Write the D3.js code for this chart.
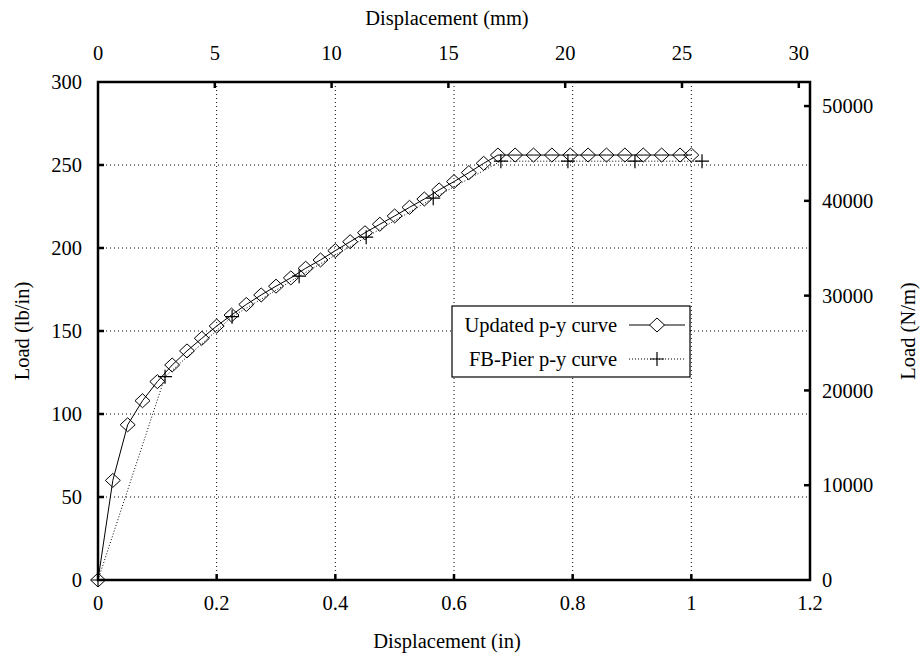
<!DOCTYPE html>
<html><head><meta charset="utf-8">
<script src="https://cdn.jsdelivr.net/npm/d3@7"></script>
<style>body{margin:0;background:#fff}svg{display:block}</style>
</head><body><svg id="c" width="922" height="656" font-family="Liberation Serif, DejaVu Serif, serif"></svg>
<script>
const updatedX=[0,0.025,0.05,0.075,0.1,0.125,0.15,0.175,0.2,0.225,0.25,0.275,0.3,0.325,0.35,0.375,0.4,0.425,0.45,0.475,0.5,0.525,0.55,0.575,0.6,0.625,0.65,0.674,0.703,0.734,0.765,0.796,0.826,0.857,0.888,0.919,0.950,0.981,1.0];
const updatedY=[0,60,93.5,108,119.5,129.5,138,145.6,153,159.6,166,171.7,177,182,187.8,192.8,198.4,203.8,209.2,214.3,219.3,224.5,229.5,235,240,245.4,251,256,256,256,256,256,256,256,256,256,256,256,256];
const fbX=[0,0.113,0.226,0.339,0.452,0.565,0.679,0.792,0.905,1.018];
const fbY=[0,122.5,158.6,183,206.5,230,252.3,252.3,252.3,252.3];
const xTicksIn=[0,0.2,0.4,0.6,0.8,1,1.2];
const xTicksMm=[0,5,10,15,20,25,30];
const yTicksLb=[0,50,100,150,200,250,300];
const yTicksN=[0,10000,20000,30000,40000,50000];
const legendLabels=["Updated p-y curve","FB-Pier p-y curve"];

const svg=d3.select("#c");
const L=98,R=810,T=82,B=580;
const x=d3.scaleLinear().domain([0,1.2]).range([L,R]);
const xmm=d3.scaleLinear().domain([0,1.2*25.4]).range([L,R]);
const y=d3.scaleLinear().domain([0,300]).range([B,T]);
const yN=d3.scaleLinear().domain([0,300*175.1268]).range([B,T]);

// grid
const g=svg.append("g").attr("stroke","#000").attr("stroke-width",1).attr("stroke-dasharray","1,3");
xTicksIn.filter(v=>v>0&&v<1.2).forEach(v=>g.append("line").attr("x1",x(v)).attr("x2",x(v)).attr("y1",T).attr("y2",B));
yTicksLb.filter(v=>v>0&&v<300).forEach(v=>g.append("line").attr("x1",L).attr("x2",R).attr("y1",y(v)).attr("y2",y(v)));

// ticks (inward)
const tk=svg.append("g").attr("stroke","#000").attr("stroke-width",2.5);
xTicksIn.filter(v=>v>0&&v<1.2).forEach(v=>tk.append("line").attr("x1",x(v)).attr("x2",x(v)).attr("y1",B).attr("y2",B-6));
xTicksMm.filter(v=>v>0&&v<30.48).forEach(v=>tk.append("line").attr("x1",xmm(v)).attr("x2",xmm(v)).attr("y1",T).attr("y2",T+6));
yTicksLb.filter(v=>v>0&&v<300).forEach(v=>tk.append("line").attr("x1",L).attr("x2",L+6).attr("y1",y(v)).attr("y2",y(v)));
yTicksN.filter(v=>v>0).forEach(v=>tk.append("line").attr("x1",R).attr("x2",R-6).attr("y1",yN(v)).attr("y2",yN(v)));

// tick labels
const fs=20.5;
xTicksIn.forEach(v=>svg.append("text").attr("x",x(v)).attr("y",603).attr("dy","0.35em").attr("text-anchor","middle").attr("font-size",fs).text(d3.format("~g")(v)));
xTicksMm.forEach(v=>svg.append("text").attr("x",xmm(v)).attr("y",53).attr("dy","0.35em").attr("text-anchor","middle").attr("font-size",fs).text(v));
yTicksLb.forEach(v=>svg.append("text").attr("x",82).attr("y",y(v)).attr("dy","0.35em").attr("text-anchor","end").attr("font-size",fs).text(v));
yTicksN.forEach(v=>svg.append("text").attr("x",822).attr("y",yN(v)).attr("dy","0.35em").attr("text-anchor","start").attr("font-size",fs).text(v));

// titles
svg.append("text").attr("x",447).attr("y",641).attr("dy","0.35em").attr("text-anchor","middle").attr("font-size",fs).text("Displacement (in)");
svg.append("text").attr("x",447).attr("y",18).attr("dy","0.35em").attr("text-anchor","middle").attr("font-size",fs).text("Displacement (mm)");
svg.append("text").attr("transform",`translate(22,${(T+B)/2}) rotate(-90)`).attr("dy","0.35em").attr("text-anchor","middle").attr("font-size",fs).text("Load (lb/in)");
svg.append("text").attr("transform",`translate(908,${(T+B)/2}) rotate(-90)`).attr("dy","0.35em").attr("text-anchor","middle").attr("font-size",fs).text("Load (N/m)");

// data
const upd=updatedX.map((v,i)=>[v,updatedY[i]]);
const fb=fbX.map((v,i)=>[v,fbY[i]]);
const line=d3.line().x(d=>x(d[0])).y(d=>y(d[1]));
svg.append("path").attr("d",line(fb)).attr("fill","none").attr("stroke","#000").attr("stroke-width",1).attr("stroke-dasharray","1,2");
svg.append("path").attr("d",line(upd)).attr("fill","none").attr("stroke","#000").attr("stroke-width",1);
const diamond=(cx,cy)=>`M${cx-7.5},${cy}L${cx},${cy-7}L${cx+7.5},${cy}L${cx},${cy+7}Z`;
const cross=(cx,cy)=>`M${cx-7},${cy}H${cx+7}M${cx},${cy-7}V${cy+7}`;
svg.append("g").selectAll("path").data(upd).join("path").attr("d",d=>diamond(x(d[0]),y(d[1]))).attr("fill","none").attr("stroke","#000").attr("stroke-width",1);
svg.append("g").selectAll("path").data(fb).join("path").attr("d",d=>cross(x(d[0]),y(d[1]))).attr("fill","none").attr("stroke","#000").attr("stroke-width",1.2);

// border
svg.append("rect").attr("x",L).attr("y",T).attr("width",R-L).attr("height",B-T).attr("fill","none").attr("stroke","#000").attr("stroke-width",2.5);

// legend
const lg=svg.append("g");
lg.append("rect").attr("x",452).attr("y",306).attr("width",238).attr("height",71).attr("fill","#fff").attr("stroke","#000").attr("stroke-width",1.2);
lg.append("text").attr("x",617).attr("y",325).attr("dy","0.35em").attr("text-anchor","end").attr("font-size",fs).text(legendLabels[0]);
lg.append("text").attr("x",617).attr("y",359).attr("dy","0.35em").attr("text-anchor","end").attr("font-size",fs).text(legendLabels[1]);
lg.append("line").attr("x1",629).attr("x2",685).attr("y1",325).attr("y2",325).attr("stroke","#000");
lg.append("path").attr("d",diamond(657,325)).attr("fill","#fff").attr("stroke","#000");
lg.append("line").attr("x1",629).attr("x2",685).attr("y1",359).attr("y2",359).attr("stroke","#000").attr("stroke-dasharray","1,2");
lg.append("path").attr("d",cross(657,359)).attr("fill","none").attr("stroke","#000").attr("stroke-width",1.2);
</script></body></html>
